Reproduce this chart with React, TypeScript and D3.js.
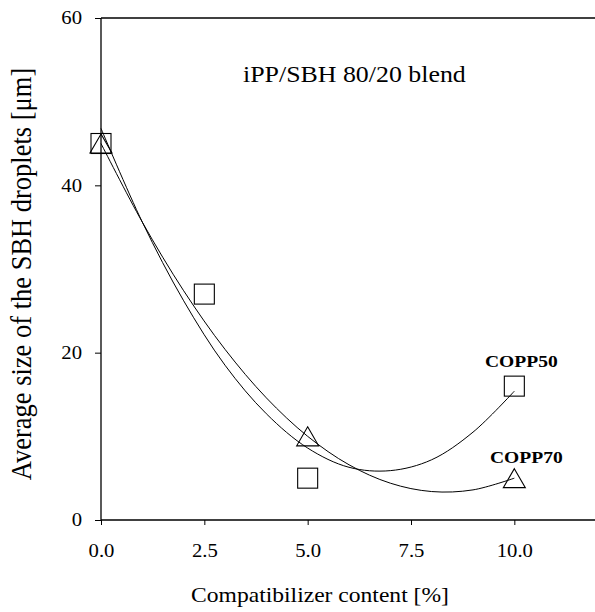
import React, { useEffect, useRef } from 'react';
import * as d3 from 'd3';

// measured points
const copp50X = [0, 2.5, 5, 10];
const copp50Y = [45, 27, 5, 16];
const copp70X = [0, 5, 10];
const copp70Y = [45, 10, 5];

// fitted curves
const curveX = [0, 1, 2, 3, 4, 5, 6, 7, 8, 9, 10];
const fit50Y = [46.8, 35.6, 26.2, 18.5, 12.7, 8.6, 6.3, 5.9, 7.2, 10.5, 15.4];
const fit70Y = [45, 35.6, 27.4, 20.4, 14.6, 10, 6.6, 4.4, 3.4, 3.6, 5];

const xTicks = [0, 2.5, 5, 7.5, 10];
const yTicks = [0, 20, 40, 60];

function App() {
  const ref = useRef<SVGSVGElement>(null);

  useEffect(() => {
    const W = 595, H = 612;
    const margin = { top: 18, right: -2, bottom: 92, left: 101 };
    const font = '"Liberation Serif", "Times New Roman", serif';
    const sx = 1.15; // the scan is a bit wider than tall

    const svg = d3.select(ref.current);
    svg.selectAll('*').remove();

    const x = d3.scaleLinear().domain([0, 12]).range([margin.left, W - margin.right]);
    const y = d3.scaleLinear().domain([0, 60]).range([H - margin.bottom, margin.top]);

    // top line of frame
    svg.append('line')
      .attr('x1', x(0)).attr('x2', x(12)).attr('y1', y(60)).attr('y2', y(60))
      .attr('stroke', '#000').attr('stroke-width', 1.3);

    const xAxis = svg.append('g')
      .attr('transform', `translate(0,${y(0)})`)
      .call(d3.axisBottom(x).tickValues(xTicks).tickSize(5).tickPadding(19)
        .tickFormat(d => d3.format('.1f')(d as number)));
    xAxis.select('.domain').attr('d', `M${x(0)},0H${x(12)}`).attr('stroke-width', 1.3);
    xAxis.selectAll('text')
      .attr('font-family', font).attr('font-size', 18).attr('fill', '#000')
      .attr('transform', `scale(${sx},1)`);

    const yAxis = svg.append('g')
      .attr('transform', `translate(${x(0)},0)`)
      .call(d3.axisLeft(y).tickValues(yTicks).tickSize(6).tickPadding(13));
    yAxis.select('.domain').attr('d', `M0,${y(0)}V${y(60)}`).attr('stroke-width', 1.3);
    yAxis.selectAll('text')
      .attr('font-family', font).attr('font-size', 18).attr('fill', '#000')
      .attr('x', -19 / sx)
      .attr('transform', `scale(${sx},1)`);

    // fitted curves
    const line = d3.line<number>()
      .x((d, i) => x(curveX[i]))
      .y(d => y(d))
      .curve(d3.curveCatmullRom);

    [fit50Y, fit70Y].forEach(s => {
      svg.append('path')
        .attr('d', line(s))
        .attr('fill', 'none')
        .attr('stroke', '#000')
        .attr('stroke-width', 1);
    });

    // squares
    const sq = 20;
    svg.selectAll('rect.sq')
      .data(copp50X)
      .join('rect')
      .attr('class', 'sq')
      .attr('x', d => x(d) - sq / 2)
      .attr('y', (d, i) => y(copp50Y[i]) - sq / 2)
      .attr('width', sq)
      .attr('height', sq)
      .attr('fill', 'none')
      .attr('stroke', '#000')
      .attr('stroke-width', 1.1);

    // triangles
    const tw = 22, th = 19;
    svg.selectAll('path.tri')
      .data(copp70X)
      .join('path')
      .attr('class', 'tri')
      .attr('d', (d, i) => {
        const cx = x(d), cy = y(copp70Y[i]);
        return `M${cx},${cy - th / 2}L${cx + tw / 2},${cy + th / 2}L${cx - tw / 2},${cy + th / 2}Z`;
      })
      .attr('fill', 'none')
      .attr('stroke', '#000')
      .attr('stroke-width', 1.1);

    // labels
    const label = (tx: number, ty: number, txt: string, size: number, anchor: string, weight = 'normal', rot = 0) => {
      svg.append('text')
        .attr('transform', `translate(${tx},${ty}) scale(${sx},1)${rot ? ` rotate(${rot})` : ''}`)
        .attr('text-anchor', anchor)
        .attr('font-family', font)
        .attr('font-size', size)
        .attr('font-weight', weight)
        .text(txt);
    };

    label(243, 82, 'iPP/SBH 80/20 blend', 22.5, 'start');
    label(x(10) + 7, y(16) - 19, 'COPP50', 17, 'middle', 'bold');
    label(x(10) + 12, y(5) - 15, 'COPP70', 17, 'middle', 'bold');
    label(320, 602, 'Compatibilizer content [%]', 20.5, 'middle');
    label(31, 274, 'Average size of the SBH droplets [μm]', 26.5, 'middle', 'normal', -90);
  }, []);

  return (
    <svg ref={ref} width={595} height={612}
      style={{ position: 'absolute', left: 0, top: 0, background: '#fff' }} />
  );
}

export default App;
